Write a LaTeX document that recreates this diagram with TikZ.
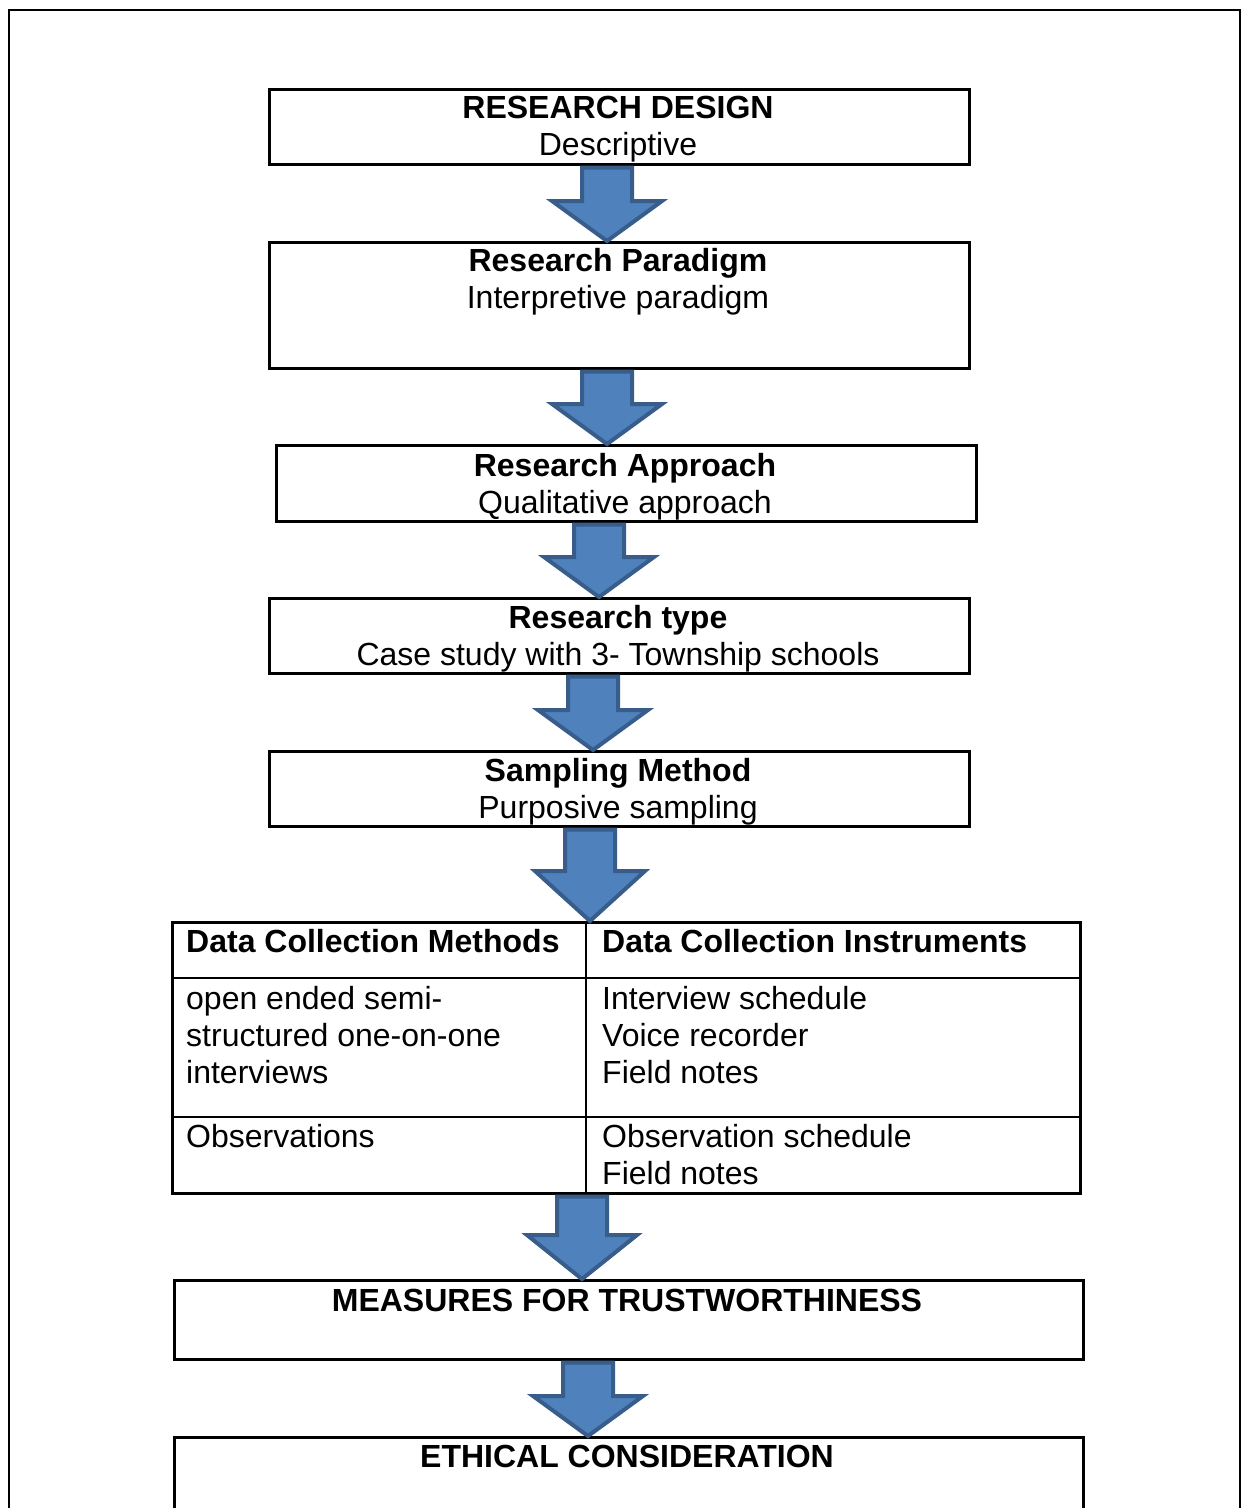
\documentclass[tikz,border=0pt]{standalone}
\usepackage{fontspec}
\setmainfont{Liberation Sans}
\usetikzlibrary{calc}
\definecolor{arrowfill}{HTML}{4F81BD}
\definecolor{arrowline}{HTML}{385D8A}
\tikzset{
  box/.style={draw, line width=2.5pt, inner sep=0pt, anchor=north west},
  txt/.style={align=center, inner sep=0pt, anchor=base, font=\fontsize{32pt}{37pt}\selectfont},
  celltxt/.style={align=left, inner sep=0pt, anchor=base west, font=\fontsize{32pt}{37pt}\selectfont},
  blockarrow/.style={fill=arrowfill, draw=arrowline, line width=4pt, line join=miter}
}
% block arrow at x=#2 from the bottom of #3 to the top of #4, head length #1
\newcommand{\blockarrow}[4][40]{%
  \draw[blockarrow] let \p1=(#3.south -| #2,0), \p2=(#4.north -| #2,0) in
    (\x1-25pt,\y1-2pt) -- (\x1+25pt,\y1-2pt) -- (\x1+25pt,\y2+#1pt)
    -- (\x1+55pt,\y2+#1pt) -- (\x1,\y2) -- (\x1-55pt,\y2+#1pt)
    -- (\x1-25pt,\y2+#1pt) -- cycle;}

\begin{document}
\begin{tikzpicture}[x=1pt, y=-1pt]
  \useasboundingbox (0,0) rectangle (1241,1508);
  % frame
  \draw[line width=2.5pt] (9,10) rectangle (1240,1540);

  % steps (text nodes sit on the baseline of their last line)
  \node[box, minimum width=700, minimum height=75] (design) at (268,88) {};
  \node[txt] at (618,155) {\textbf{RESEARCH DESIGN}\\Descriptive};

  \node[box, minimum width=700, minimum height=126] (paradigm) at (268,241) {};
  \node[txt] at (618,308) {\textbf{Research Paradigm}\\Interpretive paradigm};

  \node[box, minimum width=700, minimum height=76] (approach) at (275,444) {};
  \node[txt] at (625,513) {\textbf{Research Approach}\\Qualitative approach};

  \node[box, minimum width=700, minimum height=75] (type) at (268,597) {};
  \node[txt] at (618,665) {\textbf{Research type}\\Case study with 3- Township schools};

  \node[box, minimum width=700, minimum height=75] (sampling) at (268,750) {};
  \node[txt] at (618,818) {\textbf{Sampling Method}\\Purposive sampling};

  % data collection table
  \node[box, minimum width=908, minimum height=271] (table) at (171,921) {};
  \draw[line width=2.5pt] (table.north -| 586,0) -- (table.south -| 586,0);
  \foreach \y in {978,1117}
    \draw[line width=2.5pt] (table.west |- 0,\y) -- (table.east |- 0,\y);
  \node[celltxt] at (186,952) {\textbf{Data Collection Methods}};
  \node[celltxt] at (602,952) {\textbf{Data Collection Instruments}};
  \node[celltxt] at (186,1083) {open ended semi-\\structured one-on-one\\interviews};
  \node[celltxt] at (602,1083) {Interview schedule\\Voice recorder\\Field notes};
  \node[celltxt] at (186,1147) {Observations};
  \node[celltxt] at (602,1184) {Observation schedule\\Field notes};

  \node[box, minimum width=909, minimum height=79] (trust) at (173,1279) {};
  \node[txt] at (627,1311) {\textbf{MEASURES FOR TRUSTWORTHINESS}};

  \node[box, minimum width=909, minimum height=100] (ethics) at (173,1436) {};
  \node[txt] at (627,1467) {\textbf{ETHICAL CONSIDERATION}};

  % arrows
  \blockarrow{607}{design}{paradigm}
  \blockarrow{607}{paradigm}{approach}
  \blockarrow{599}{approach}{type}
  \blockarrow{593}{type}{sampling}
  \blockarrow[50]{590}{sampling}{table}
  \blockarrow[44]{582}{table}{trust}
  \blockarrow{588}{trust}{ethics}
\end{tikzpicture}
\end{document}
